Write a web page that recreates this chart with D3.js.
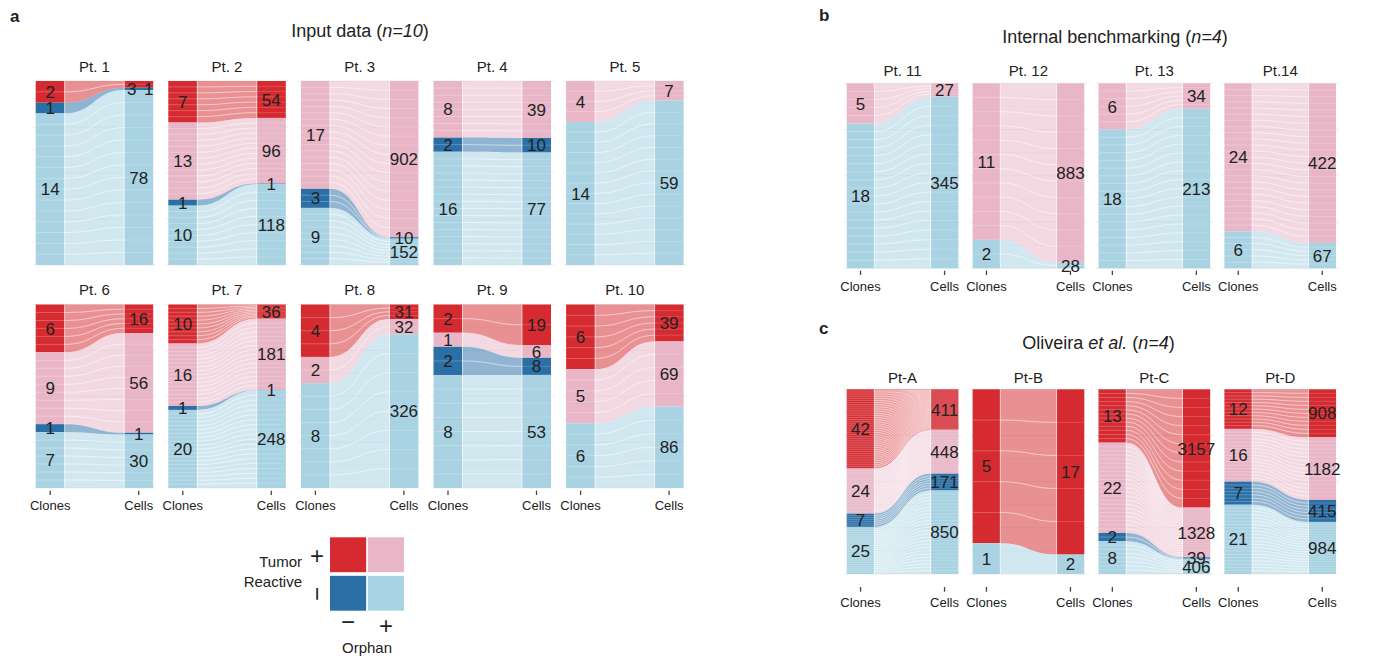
<!DOCTYPE html>
<html>
<head>
<meta charset="utf-8">
<script src="https://cdn.jsdelivr.net/npm/d3@7"></script>
<style>
  body { margin: 0; background: #fff; }
  svg text { font-family: "Liberation Sans", Arial, Helvetica, sans-serif; fill: #222; }
</style>
</head>
<body>
<svg id="chart" width="1380" height="662"></svg>
<script>
// category order top -> bottom: TR+ orphan-, TR+ orphan+, TR- orphan-, TR- orphan+
const cats = ["TR+ Orph-", "TR+ Orph+", "TR- Orph-", "TR- Orph+"];
const catColors = ["#d42a30", "#e8b6c7", "#2a6fa6", "#a9d3e2"];

// panel a: input data
const ptA = ["Pt. 1", "Pt. 2", "Pt. 3", "Pt. 4", "Pt. 5", "Pt. 6", "Pt. 7", "Pt. 8", "Pt. 9", "Pt. 10"];
const clonesA = [[2, 0, 1, 14], [7, 13, 1, 10], [0, 17, 3, 9], [0, 8, 2, 16], [0, 4, 0, 14],
                 [6, 9, 1, 7], [10, 16, 1, 20], [4, 2, 0, 8], [2, 1, 2, 8], [6, 5, 0, 6]];
const cellsA = [[3, 0, 1, 78], [54, 96, 1, 118], [0, 902, 10, 152], [0, 39, 10, 77], [0, 7, 0, 59],
                [16, 56, 1, 30], [36, 181, 1, 248], [31, 32, 0, 326], [19, 6, 8, 53], [39, 69, 0, 86]];

// panel b: internal benchmarking
const ptB = ["Pt. 11", "Pt. 12", "Pt. 13", "Pt.14"];
const clonesB = [[0, 5, 0, 18], [0, 11, 0, 2], [0, 6, 0, 18], [0, 24, 0, 6]];
const cellsB = [[0, 27, 0, 345], [0, 883, 0, 28], [0, 34, 0, 213], [0, 422, 0, 67]];

// panel c: Oliveira et al.
const ptC = ["Pt-A", "Pt-B", "Pt-C", "Pt-D"];
const clonesC = [[42, 24, 7, 25], [5, 0, 0, 1], [13, 22, 2, 8], [12, 16, 7, 21]];
const cellsC = [[411, 448, 171, 850], [17, 0, 0, 2], [3157, 1328, 39, 406], [908, 1182, 415, 984]];

const axisLabels = ["Clones", "Cells"];

// overlapping labels moved by hand (dx, dy)
const labelNudge = { "Pt. 1|Cells|0": [-7, 4.5], "Pt. 1|Cells|2": [10, 0] };

const svg = d3.select("#chart");

let stackProps = (counts) => {
  const total = d3.sum(counts);
  let acc = 0;
  return counts.map((v, i) => {
    const s = { cat: i, value: v, y0: acc / total, y1: (acc + v) / total };
    acc += v;
    return s;
  });
};

let drawRow = (names, clones, cells, lay) => {
  const xp = d3.scaleBand()
    .domain(names)
    .range([lay.x0, lay.x0 + (names.length - 1) * lay.pitch + lay.w])
    .paddingInner((lay.pitch - lay.w) / lay.pitch)
    .paddingOuter(0);
  const y = d3.scaleLinear().domain([0, 1]).range([lay.top, lay.bottom]);

  names.forEach((name, k) => {
    const w = xp.bandwidth();
    const bw = lay.bw;
    const xb = d3.scaleBand().domain(axisLabels).range([0, w])
      .paddingInner((w - 2 * bw) / (w - bw)).paddingOuter(0);
    const g = svg.append("g").attr("transform", `translate(${xp(name)},0)`);

    // grid lines behind
    g.selectAll("line.grid")
      .data(d3.range(0, 1.0001, 0.125))
      .enter()
      .append("line")
      .attr("x1", -3).attr("x2", w + 3)
      .attr("y1", (d) => y(d)).attr("y2", (d) => y(d))
      .attr("stroke", (d, i) => (i % 2 == 0 ? "#e6e6e6" : "#f0f0f0"))
      .attr("stroke-width", 0.7);

    const left = stackProps(clones[k]);
    const right = stackProps(cells[k]);
    const x1 = xb("Clones") + bw;
    const x2 = xb("Cells");
    const xm = (x1 + x2) / 2;

    // flows
    left.forEach((l, i) => {
      const r = right[i];
      if (l.value == 0 && r.value == 0) return;
      const p = `M${x1},${y(l.y0)} C${xm},${y(l.y0)} ${xm},${y(r.y0)} ${x2},${y(r.y0)}` +
        ` L${x2},${y(r.y1)} C${xm},${y(r.y1)} ${xm},${y(l.y1)} ${x1},${y(l.y1)} Z`;
      g.append("path").attr("d", p)
        .attr("fill", catColors[i]).attr("fill-opacity", 0.52);
    });

    // bars
    [["Clones", left], ["Cells", right]].forEach(([ax, segs]) => {
      g.selectAll(null)
        .data(segs.filter((s) => s.value > 0))
        .enter()
        .append("rect")
        .attr("x", xb(ax))
        .attr("width", bw)
        .attr("y", (d) => y(d.y0))
        .attr("height", (d) => y(d.y1) - y(d.y0))
        .attr("fill", (d) => catColors[d.cat]);
    });

    // clone separators (one stripe per clone)
    left.forEach((l, i) => {
      const r = right[i];
      const n = l.value;
      for (let j = 1; j < n; j++) {
        const ly = y(l.y0 + (l.y1 - l.y0) * j / n);
        const ry = y(r.y0 + (r.y1 - r.y0) * j / n);
        g.append("path")
          .attr("d", `M${x1},${ly} C${xm},${ly} ${xm},${ry} ${x2},${ry}`)
          .attr("fill", "none").attr("stroke", "#fff")
          .attr("stroke-opacity", 0.75).attr("stroke-width", 0.7);
        g.append("line")
          .attr("x1", 0).attr("x2", x1).attr("y1", ly).attr("y2", ly)
          .attr("stroke", "#fff").attr("stroke-opacity", 0.35).attr("stroke-width", 0.7);
        g.append("line")
          .attr("x1", x2).attr("x2", w).attr("y1", ry).attr("y2", ry)
          .attr("stroke", "#fff").attr("stroke-opacity", 0.25).attr("stroke-width", 0.7);
      }
    });

    // thin white edges between bars and flows
    [x1, x2].forEach((xx) => {
      g.append("line").attr("x1", xx).attr("x2", xx)
        .attr("y1", y(0)).attr("y2", y(1))
        .attr("stroke", "#fff").attr("stroke-width", 0.8).attr("stroke-opacity", 0.8);
    });

    // count labels
    [["Clones", left], ["Cells", right]].forEach(([ax, segs]) => {
      segs.filter((s) => s.value > 0).forEach((s) => {
        const nudge = labelNudge[`${name}|${ax}|${s.cat}`] || [0, 0];
        g.append("text")
          .attr("x", xb(ax) + bw / 2 + nudge[0])
          .attr("y", y((s.y0 + s.y1) / 2) + nudge[1])
          .attr("dy", "0.36em")
          .attr("text-anchor", "middle")
          .style("font-size", "17px")
          .text(s.value);
      });
    });

    // patient title
    g.append("text")
      .attr("x", w / 2).attr("y", lay.titleY)
      .attr("text-anchor", "middle")
      .style("font-size", "15px")
      .text(name);

    // x axis
    if (lay.axis) {
      axisLabels.forEach((a) => {
        const cx = xb(a) + bw / 2;
        g.append("line").attr("x1", cx).attr("x2", cx)
          .attr("y1", lay.tick0).attr("y2", lay.tick1)
          .attr("stroke", "#444").attr("stroke-width", 1.3);
        g.append("text").attr("x", cx).attr("y", lay.labelY)
          .attr("text-anchor", "middle")
          .style("font-size", "13px")
          .text(a);
      });
    }
  });
};

const layA1 = { x0: 35.7, pitch: 132.6, w: 117.5, bw: 29, top: 81, bottom: 265, titleY: 71.5, axis: false };
const layA2 = { x0: 35.7, pitch: 132.6, w: 117.5, bw: 29, top: 304.5, bottom: 488, titleY: 295,
  axis: true, tick0: 490.7, tick1: 495, labelY: 510 };
const layB = { x0: 846.7, pitch: 125.9, w: 111.7, bw: 27.7, top: 83.3, bottom: 268.3, titleY: 76,
  axis: true, tick0: 270.7, tick1: 275, labelY: 290.5 };
const layC = { x0: 846.7, pitch: 125.9, w: 111.7, bw: 27.7, top: 389.3, bottom: 574, titleY: 382.7,
  axis: true, tick0: 587, tick1: 591.7, labelY: 606.5 };

drawRow(ptA.slice(0, 5), clonesA.slice(0, 5), cellsA.slice(0, 5), layA1);
drawRow(ptA.slice(5), clonesA.slice(5), cellsA.slice(5), layA2);
drawRow(ptB, clonesB, cellsB, layB);
drawRow(ptC, clonesC, cellsC, layC);

// panel letters
[["a", 10, 22], ["b", 819, 21], ["c", 819, 334]].forEach(([t, x, yy]) => {
  svg.append("text").attr("x", x).attr("y", yy)
    .style("font-size", "17px").style("font-weight", "700").text(t);
});

// panel titles
let title = (parts, x, yy) => {
  const t = svg.append("text").attr("x", x).attr("y", yy)
    .attr("text-anchor", "middle").style("font-size", "18px");
  parts.forEach(([s, it]) => {
    t.append("tspan").style("font-style", it ? "italic" : "normal").text(s);
  });
};
title([["Input data ("], ["n=10", true], [")"]], 360, 36.5);
title([["Internal benchmarking ("], ["n=4", true], [")"]], 1115, 42.5);
title([["Oliveira "], ["et al.", true], [" ("], ["n=4", true], [")"]], 1098.5, 349);

// legend
const lg = svg.append("g");
const lx = d3.scaleBand().domain(["-", "+"]).range([330, 404]).paddingInner(0.045);
const ly = d3.scaleBand().domain(["+", "-"]).range([537.3, 610.7]).paddingInner(0.095);
lg.selectAll("rect")
  .data(cats)
  .enter()
  .append("rect")
  .attr("x", (d, i) => lx(i % 2 == 0 ? "-" : "+"))
  .attr("y", (d, i) => ly(i < 2 ? "+" : "-"))
  .attr("width", lx.bandwidth())
  .attr("height", ly.bandwidth())
  .attr("fill", (d, i) => catColors[i]);

lg.append("text").attr("x", 317).attr("y", 555).attr("dy", "0.36em")
  .attr("text-anchor", "middle").style("font-size", "24px").text("+");
lg.append("text").attr("transform", "translate(317,594) rotate(-90)").attr("dy", "0.32em")
  .attr("text-anchor", "middle").style("font-size", "24px").text("−");
lg.append("text").attr("x", lx("-") + lx.bandwidth() / 2).attr("y", 622).attr("dy", "0.32em")
  .attr("text-anchor", "middle").style("font-size", "24px").text("−");
lg.append("text").attr("x", lx("+") + lx.bandwidth() / 2).attr("y", 625).attr("dy", "0.36em")
  .attr("text-anchor", "middle").style("font-size", "24px").text("+");
lg.append("text").attr("x", 302).attr("y", 566.5).attr("text-anchor", "end")
  .style("font-size", "15px").text("Tumor");
lg.append("text").attr("x", 302).attr("y", 586.5).attr("text-anchor", "end")
  .style("font-size", "15px").text("Reactive");
lg.append("text").attr("x", 367).attr("y", 653).attr("text-anchor", "middle")
  .style("font-size", "15px").text("Orphan");
</script>
</body>
</html>
